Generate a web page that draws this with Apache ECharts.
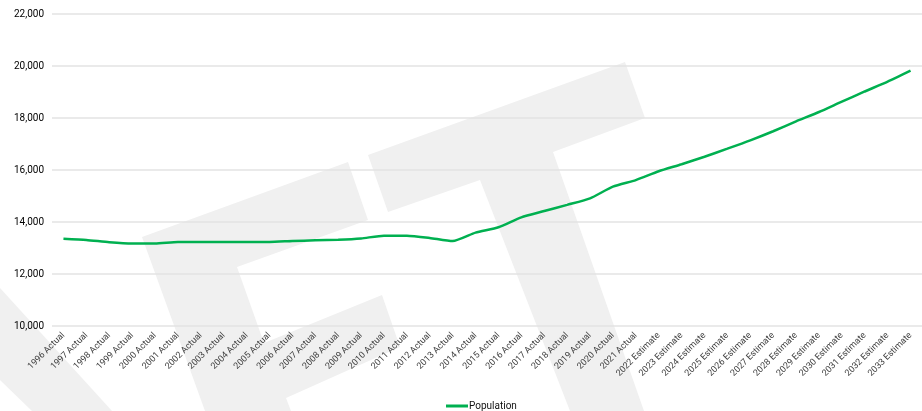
<!DOCTYPE html>
<html>
<head>
<meta charset="utf-8">
<script src="https://cdn.jsdelivr.net/npm/echarts@6/dist/echarts.min.js"></script>
<style>
html,body{margin:0;padding:0;background:#fff;}
#c{width:922px;height:411px;}
</style>
</head>
<body>
<div id="c"></div>
<script>
const categories = [
  '1996 Actual','1997 Actual','1998 Actual','1999 Actual','2000 Actual','2001 Actual',
  '2002 Actual','2003 Actual','2004 Actual','2005 Actual','2006 Actual','2007 Actual',
  '2008 Actual','2009 Actual','2010 Actual','2011 Actual','2012 Actual','2013 Actual',
  '2014 Actual','2015 Actual','2016 Actual','2017 Actual','2018 Actual','2019 Actual',
  '2020 Actual','2021 Actual','2022 Estimate','2023 Estimate','2024 Estimate','2025 Estimate',
  '2026 Estimate','2027 Estimate','2028 Estimate','2029 Estimate','2030 Estimate','2031 Estimate',
  '2032 Estimate','2033 Estimate'
];
const population = [
  13360, 13310, 13220, 13170, 13170, 13230,
  13230, 13230, 13230, 13230, 13270, 13295,
  13320, 13370, 13470, 13470, 13385, 13265,
  13590, 13800, 14180, 14420, 14660, 14910,
  15360, 15610, 15950, 16220, 16510, 16820,
  17140, 17490, 17870, 18230, 18630, 19020,
  19400, 19820
];
const seriesName = 'Population';
const yMin = 10000, yMax = 22000, yStep = 2000;

const wm = '#f0f0f0';
function poly(points){
  return {type:'polygon', silent:true, z:-10, shape:{points:points}, style:{fill:wm}};
}

const chart = echarts.init(document.getElementById('c'), null, {renderer:'canvas'});
chart.setOption({
  animation:false,
  backgroundColor:'#ffffff',
  textStyle:{fontFamily:'"Liberation Sans Narrow", Roboto, sans-serif'},
  graphic:{elements:[
    poly([[0,288],[112,411],[32,411],[0,380]]),
    poly([[142,237],[348,162],[368,220],[237,267],[264,343],[382,295],[400,347],[286,398],[291,411],[205,411]]),
    poly([[368,155],[625,62],[645,118],[553,152],[644,411],[570,411],[480,180],[388,212]])
  ]},
  grid:{left:52, right:-1, top:14, bottom:85, containLabel:false},
  legend:{
    data:[seriesName],
    left:441, top:396,
    itemWidth:22, itemHeight:3, itemGap:0,
    icon:'rect',
    textStyle:{fontSize:10, color:'#111', padding:[0,0,0,-4]}
  },
  xAxis:{
    type:'category',
    data:categories,
    boundaryGap:true,
    axisLine:{show:false},
    axisTick:{show:false},
    axisLabel:{rotate:45, fontSize:9, color:'#404040', margin:8, interval:0}
  },
  yAxis:{
    type:'value',
    min:yMin, max:yMax, interval:yStep,
    axisLine:{show:false},
    axisTick:{show:false},
    axisLabel:{fontSize:10, color:'#000', margin:8,
      formatter:function(v){return v.toLocaleString('en-US');}},
    splitLine:{lineStyle:{color:'#e3e3e3', width:1.5}}
  },
  series:[{
    name:seriesName,
    type:'line',
    data:population,
    smooth:0.2,
    showSymbol:false,
    symbol:'none',
    lineStyle:{color:'#00b050', width:2.5},
    itemStyle:{color:'#00b050'}
  }]
});
</script>
</body>
</html>
